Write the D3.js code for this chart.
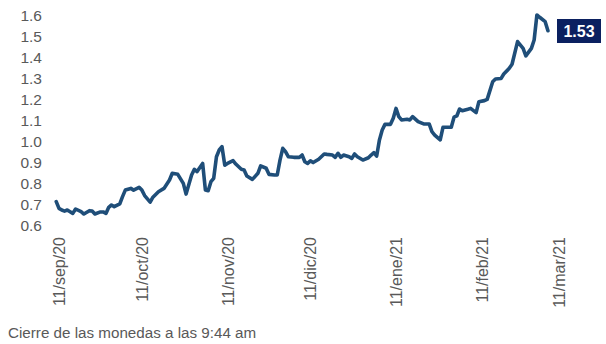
<!DOCTYPE html>
<html>
<head>
<meta charset="utf-8">
<script src="https://cdn.jsdelivr.net/npm/d3@7"></script>
<style>
  html, body { margin: 0; padding: 0; background: #ffffff; }
  svg { display: block; }
  text { font-family: "Liberation Sans", Arial, sans-serif; }
</style>
</head>
<body>
<svg id="chart" width="606" height="344"></svg>
<script>
// ---- data ----
const dates = [
  "2020-09-10","2020-09-11","2020-09-12","2020-09-13","2020-09-14","2020-09-15","2020-09-16","2020-09-17",
  "2020-09-19","2020-09-20","2020-09-22","2020-09-23","2020-09-24","2020-09-26","2020-09-27","2020-09-28",
  "2020-09-29","2020-09-30","2020-10-01","2020-10-03","2020-10-04","2020-10-05","2020-10-07","2020-10-08",
  "2020-10-10","2020-10-11","2020-10-12","2020-10-14","2020-10-15","2020-10-17","2020-10-19","2020-10-21",
  "2020-10-22","2020-10-24","2020-10-26","2020-10-27","2020-10-29","2020-10-30","2020-10-31","2020-11-02",
  "2020-11-03","2020-11-04","2020-11-05","2020-11-06","2020-11-07","2020-11-08","2020-11-09","2020-11-10",
  "2020-11-11","2020-11-13","2020-11-14","2020-11-16","2020-11-17","2020-11-18","2020-11-20","2020-11-22",
  "2020-11-23","2020-11-25","2020-11-26","2020-11-28","2020-11-29","2020-11-30","2020-12-01","2020-12-02",
  "2020-12-03","2020-12-05","2020-12-07","2020-12-08","2020-12-09","2020-12-10","2020-12-11","2020-12-12",
  "2020-12-14","2020-12-16","2020-12-17","2020-12-19","2020-12-20","2020-12-21","2020-12-22","2020-12-23",
  "2020-12-25","2020-12-26","2020-12-27","2020-12-28","2020-12-30","2021-01-01","2021-01-02","2021-01-03",
  "2021-01-04","2021-01-05","2021-01-06","2021-01-07","2021-01-09","2021-01-10","2021-01-11","2021-01-12",
  "2021-01-13","2021-01-15","2021-01-16","2021-01-17","2021-01-19","2021-01-21","2021-01-23","2021-01-24",
  "2021-01-25","2021-01-27","2021-01-28","2021-01-31","2021-02-01","2021-02-02","2021-02-03","2021-02-04",
  "2021-02-06","2021-02-07","2021-02-09","2021-02-10","2021-02-12","2021-02-13","2021-02-15","2021-02-16",
  "2021-02-18","2021-02-19","2021-02-21","2021-02-22","2021-02-24","2021-02-26","2021-02-27","2021-03-01",
  "2021-03-02","2021-03-03","2021-03-04","2021-03-06","2021-03-07"
];
const values = [
  0.716,0.684,0.676,0.671,0.676,0.668,0.660,0.681,
  0.668,0.657,0.673,0.671,0.657,0.667,0.667,0.660,
  0.689,0.700,0.692,0.705,0.740,0.771,0.779,0.771,
  0.784,0.771,0.745,0.714,0.737,0.763,0.779,0.819,
  0.851,0.846,0.803,0.752,0.843,0.870,0.859,0.898,
  0.771,0.768,0.811,0.827,0.930,0.962,0.978,0.890,
  0.898,0.911,0.895,0.870,0.867,0.838,0.822,0.851,
  0.886,0.875,0.846,0.843,0.843,0.914,0.970,0.954,
  0.930,0.927,0.927,0.938,0.906,0.898,0.910,0.902,
  0.918,0.943,0.941,0.938,0.927,0.946,0.927,0.938,
  0.930,0.922,0.943,0.930,0.914,0.925,0.938,0.949,
  0.933,1.010,1.057,1.084,1.084,1.113,1.160,1.121,
  1.105,1.108,1.105,1.121,1.097,1.086,1.086,1.049,
  1.033,1.010,1.070,1.070,1.118,1.124,1.157,1.149,
  1.156,1.160,1.140,1.192,1.197,1.203,1.287,1.300,
  1.302,1.324,1.351,1.370,1.478,1.446,1.410,1.446,
  1.486,1.605,1.594,1.573,1.530
];
const yTicks = [0.6,0.7,0.8,0.9,1.0,1.1,1.2,1.3,1.4,1.5,1.6];
const xTickDates = ["2020-09-11","2020-10-11","2020-11-11","2020-12-11","2021-01-11","2021-02-11","2021-03-11"];
const monthNames = ["ene","feb","mar","abr","may","jun","jul","ago","sep","oct","nov","dic"];
const lastLabel = "1.53";
const footnote = "Cierre de las monedas a las 9:44 am";

// ---- drawing ----
const parse = d3.timeParse("%Y-%m-%d");
const data = dates.map((d, i) => ({ date: parse(d), value: values[i] }));

const svg = d3.select("#chart");
const x = d3.scaleTime()
  .domain([parse("2020-09-11"), parse("2021-03-11")])
  .range([59, 559]);
const y = d3.scaleLinear().domain([0.6, 1.6]).range([226, 16]);

// y axis labels
const yAxis = d3.axisLeft(y).tickValues(yTicks).tickFormat(d3.format(".1f")).tickSize(0).tickPadding(0);
const gy = svg.append("g").attr("transform", "translate(42,0)").call(yAxis);
gy.select(".domain").remove();
gy.selectAll("text")
  .attr("fill", "#595959")
  .style("font-size", "15.5px")
  .style("font-family", "'Liberation Sans', Arial, sans-serif");

// x axis labels (rotated)
const fmt = d => `${d.getDate()}/${monthNames[d.getMonth()]}/${String(d.getFullYear()).slice(2)}`;
const xAxis = d3.axisBottom(x).tickValues(xTickDates.map(parse)).tickFormat(fmt).tickSize(0).tickPadding(0);
const gx = svg.append("g").attr("transform", "translate(0,237)").call(xAxis);
gx.select(".domain").remove();
gx.selectAll(".tick text")
  .attr("y", 0).attr("x", 0).attr("dy", null)
  .attr("transform", "rotate(-90)")
  .attr("text-anchor", "end")
  .attr("dominant-baseline", "central")
  .attr("fill", "#595959")
  .style("font-size", "16px")
  .style("font-family", "'Liberation Sans', Arial, sans-serif");

// line
const line = d3.line().x(d => x(d.date)).y(d => y(d.value));
svg.append("path")
  .datum(data)
  .attr("fill", "none")
  .attr("stroke", "#1f4e79")
  .attr("stroke-width", 3.6)
  .attr("stroke-linejoin", "round")
  .attr("stroke-linecap", "round")
  .attr("d", line);

// last value label
const g = svg.append("g");
g.append("rect").attr("x", 557).attr("y", 19).attr("width", 44).attr("height", 24).attr("fill", "#0b2060");
g.append("text").attr("x", 579).attr("y", 31).attr("text-anchor", "middle")
  .attr("dominant-baseline", "central").attr("fill", "#ffffff")
  .style("font-size", "16px").style("font-weight", "bold").text(lastLabel);

// footnote
svg.append("text").attr("x", 8).attr("y", 338).attr("fill", "#595959")
  .style("font-size", "15.2px").text(footnote);
</script>
</body>
</html>
